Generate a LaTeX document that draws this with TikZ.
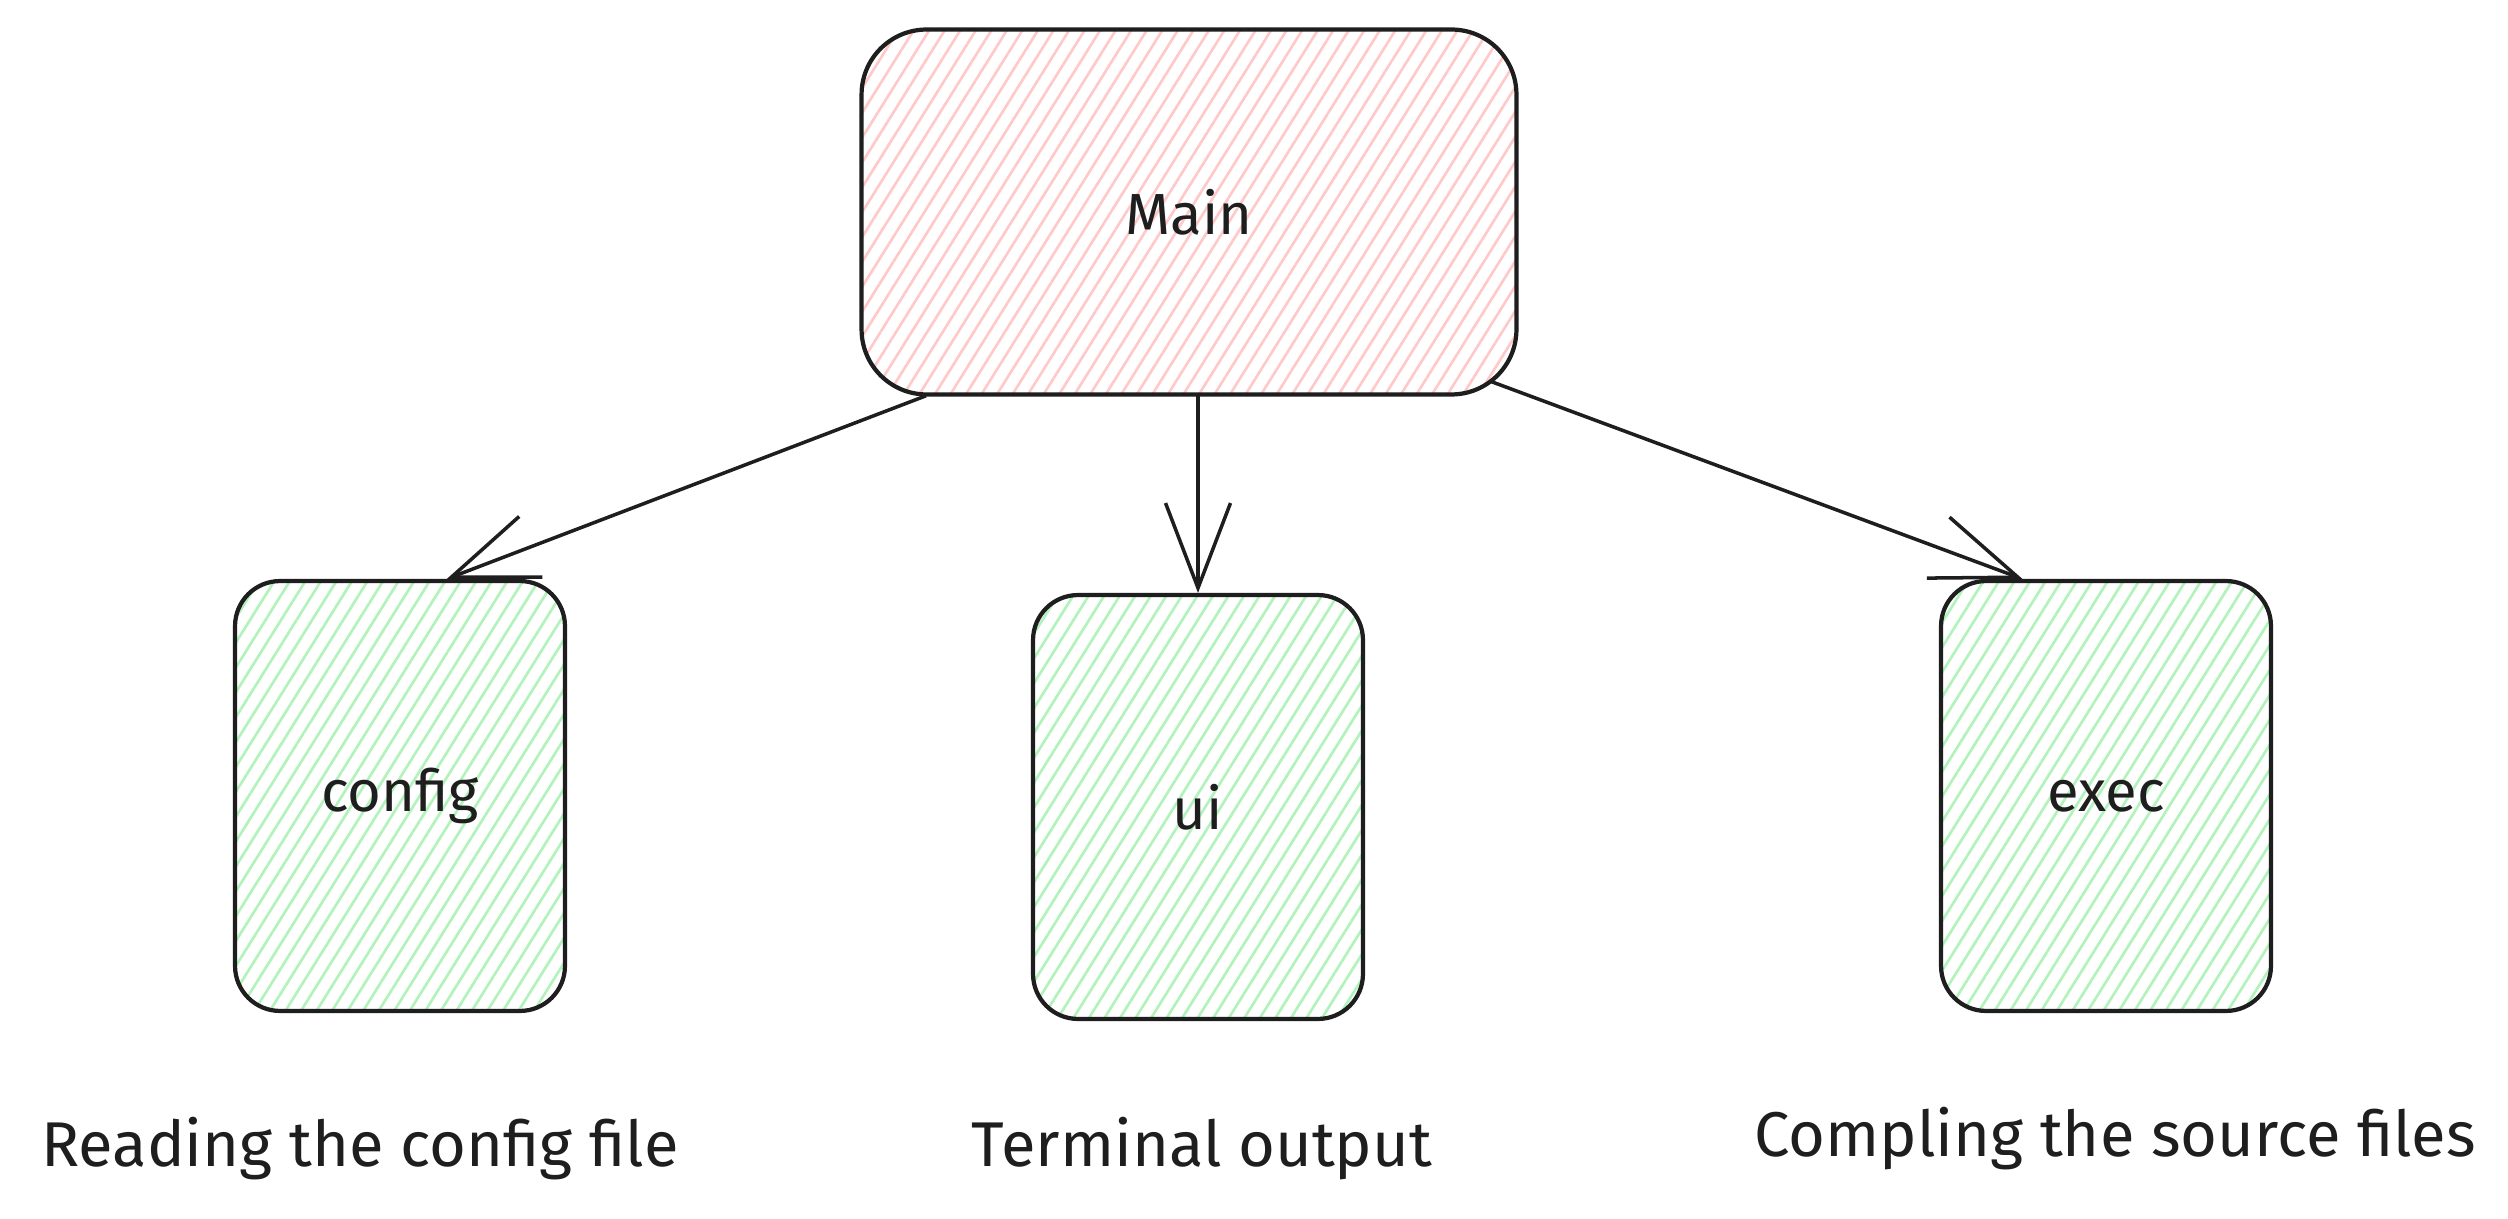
\documentclass[tikz,border=0pt]{standalone}
\usepackage{fontspec}
\setmainfont{Fira Sans}
\usetikzlibrary{arrows.meta,patterns.meta,calc}
\definecolor{ink}{HTML}{1E1E1E}
\definecolor{pinkfill}{HTML}{FFC9C9}
\definecolor{greenfill}{HTML}{B2F2BB}
\begin{document}
\begin{tikzpicture}[x=0.02cm,y=-0.02cm,
 box/.style={draw=ink, line width=2.4pt, rounded corners=0.9cm, pattern={Lines[angle=58,distance=7.5pt,line width=1.5pt]}, inner sep=0pt, font=\fontsize{33}{40}\selectfont, text=ink},
 mainbox/.style={box, pattern color=pinkfill, minimum width=13.1cm, minimum height=7.3cm, rounded corners=1.3cm},
 subbox/.style={box, pattern color=greenfill, minimum width=6.6cm, minimum height=8.6cm},
 lbl/.style={font=\fontsize{36}{44}\selectfont, text=ink, inner sep=0pt},
 conn/.style={draw=ink, line width=2pt, -{Straight Barb[length=1.7cm,width=1.3cm,line width=2pt]}}]
\fill[white] (0,0) rectangle (2508,1219);
\useasboundingbox (0,0) rectangle (2508,1219);
\node[mainbox] (main) at (1189,212) {Main};
\node[subbox] (config) at (400,796) {config};
\node[subbox, minimum height=8.48cm] (ui) at (1198,807) {ui};
\node[subbox] (exec) at (2106,796) {exec};
\draw[conn] ($(main.south west)!0.10!(main.south east)$) -- ($(config.north west)!0.64!(config.north east)$);
\draw[conn] (ui.north |- main.south) -- (ui.north);
\draw[conn] ($(main.south east)+(-26,-14)$) -- ($(exec.north west)!0.25!(exec.north east)$);
\node[lbl] (l1) at (360,1149) {Reading the config file};
\node[lbl] (l2) at (1202,1149) {Terminal output};
\node[lbl] (l3) at (2115,1139) {Compling the source files};
\end{tikzpicture}
\end{document}
